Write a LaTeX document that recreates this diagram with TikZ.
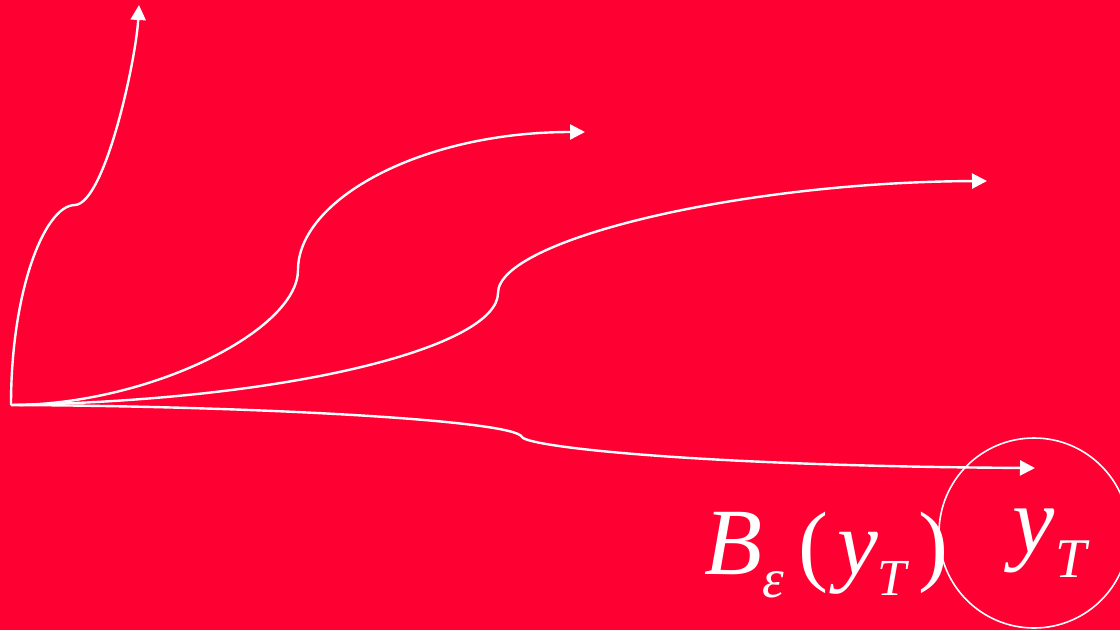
\documentclass[tikz,border=0pt]{standalone}
\usepackage{fontspec}
\setmainfont{Liberation Serif}
\usetikzlibrary{arrows.meta}
\definecolor{bgred}{RGB}{255,0,51}
\tikzset{
  traj/.style={draw=white, line width=2.4pt, -{Triangle[length=15pt,width=15pt]}},
  lbl/.style={text=white, inner sep=0pt, anchor=base west},
}
\begin{document}
\begin{tikzpicture}[x=1pt,y=-1pt]
\useasboundingbox (0,0) rectangle (1120,630);
\fill[bgred] (0,0) rectangle (1120,630);
\clip (0,0) rectangle (1120,630);
\coordinate (O) at (11,405);
\coordinate (K1) at (75,205);
\coordinate (E1) at (139,5);
\coordinate (K2) at (298,270);
\coordinate (E2) at (585,132);
\coordinate (K3) at (498,293);
\coordinate (E3) at (987,181);
\coordinate (K4) at (522,437);
\coordinate (E4) at (1035,468);
\draw[traj] (O) .. controls (11,290) and (45,205) .. (K1)
  .. controls (105,203) and (136,60) .. (E1);
\draw[traj] (O) .. controls (150,405) and (298,330) .. (K2)
  .. controls (298,200) and (420,132) .. (E2);
\draw[traj] (O) .. controls (300,400) and (498,345) .. (K3)
  .. controls (498,240) and (740,182) .. (E3);
\draw[traj] (O) .. controls (250,406) and (515,420) .. (K4)
  .. controls (528,447) and (700,466) .. (E4);
\node (ball) [draw=white, line width=1.6pt, circle, minimum size=190pt, inner sep=0pt] at (1034,533) {};
\node[lbl] (B) at (704,574) {\fontsize{95}{95}\selectfont\itshape B};
\node[lbl] (eps) at (762,597) {\fontsize{55}{55}\selectfont\itshape ε};
\node[lbl] (lp) at (798,574) {\fontsize{90}{90}\selectfont (};
\node[lbl] (y1) at (837,574) {\fontsize{92}{92}\selectfont\itshape y};
\node[lbl] (T1) at (877,595) {\fontsize{52}{52}\selectfont\itshape T};
\node[lbl] (rp) at (918,574) {\fontsize{90}{90}\selectfont )};
\node[lbl] (y2) at (1012,552) {\fontsize{95}{95}\selectfont\itshape y};
\node[lbl] (T2) at (1055,577) {\fontsize{56}{56}\selectfont\itshape T};
\end{tikzpicture}
\end{document}
